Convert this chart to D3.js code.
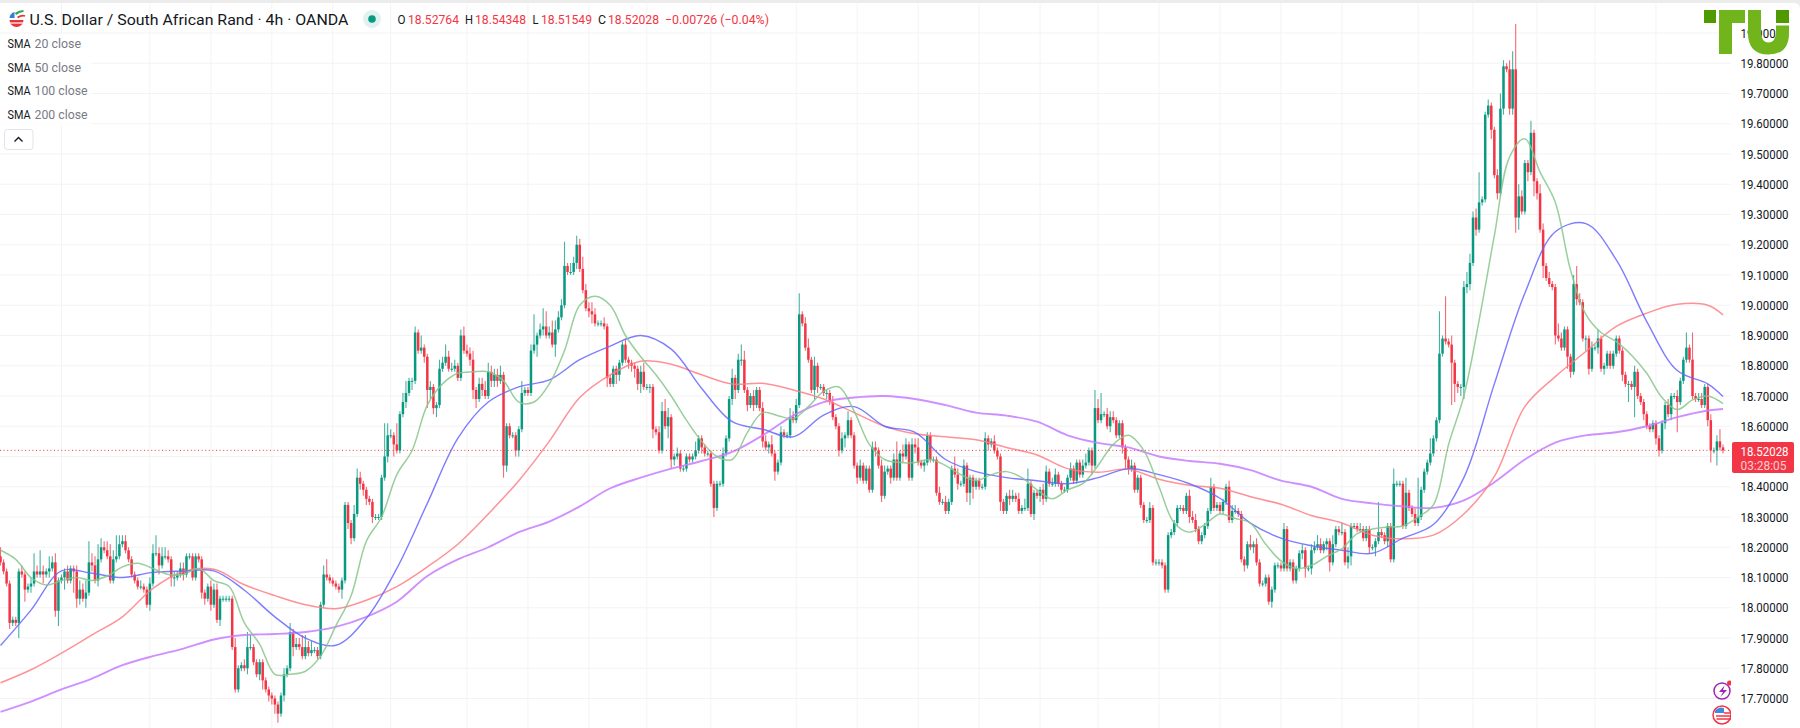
<!DOCTYPE html>
<html><head><meta charset="utf-8">
<script src="https://cdn.jsdelivr.net/npm/d3@7/dist/d3.min.js"></script>
<style>html,body{margin:0;padding:0;background:#ececec;overflow:hidden}svg{display:block}</style>
</head><body><svg id="c" width="1800" height="728"></svg>
<script>
const closes=[
18.15,18.12,18.08,17.95,17.96,17.95,18.12,18.11,18.06,18.07,
18.08,18.12,18.11,18.12,18.11,18.12,18.13,18.15,17.99,18.09,
18.10,18.12,18.09,18.13,18.12,18.03,18.06,18.03,18.05,18.15,
18.14,18.09,18.16,18.20,18.19,18.17,18.09,18.16,18.17,18.21,
18.22,18.19,18.16,18.11,18.09,18.07,18.07,18.06,18.01,18.08,
18.18,18.18,18.14,18.17,18.17,18.16,18.10,18.10,18.11,18.13,
18.11,18.17,18.17,18.10,18.17,18.16,18.05,18.03,18.07,18.01,
18.06,17.96,18.03,18.03,18.03,18.03,17.87,17.73,17.80,17.81,
17.80,17.87,17.87,17.82,17.78,17.82,17.76,17.73,17.71,17.70,
17.68,17.65,17.71,17.78,17.80,17.92,17.87,17.88,17.87,17.84,
17.87,17.85,17.86,17.86,17.84,18.01,18.11,18.10,18.09,18.08,
18.07,18.06,18.09,18.34,18.28,18.23,18.31,18.43,18.41,18.39,
18.36,18.35,18.30,18.30,18.30,18.43,18.50,18.57,18.57,18.54,
18.52,18.64,18.68,18.71,18.75,18.75,18.91,18.85,18.86,18.83,
18.72,18.73,18.66,18.67,18.79,18.81,18.83,18.79,18.79,18.80,
18.76,18.90,18.85,18.84,18.82,18.72,18.69,18.74,18.72,18.70,
18.78,18.75,18.77,18.75,18.77,18.47,18.60,18.57,18.57,18.52,
18.59,18.71,18.72,18.71,18.85,18.87,18.90,18.92,18.93,18.90,
18.91,18.87,18.92,18.96,19.00,19.13,19.11,19.11,19.14,19.20,
19.12,19.05,18.99,18.98,18.97,18.94,18.94,18.94,18.93,18.76,
18.74,18.79,18.77,18.81,18.87,18.82,18.81,18.80,18.79,18.74,
18.78,18.73,18.73,18.73,18.59,18.58,18.52,18.65,18.60,18.63,
18.49,18.50,18.51,18.46,18.46,18.50,18.49,18.50,18.52,18.56,
18.53,18.51,18.51,18.41,18.33,18.41,18.41,18.51,18.56,18.69,
18.76,18.72,18.82,18.82,18.72,18.67,18.70,18.67,18.72,18.66,
18.55,18.53,18.54,18.51,18.45,18.48,18.58,18.57,18.57,18.63,
18.62,18.67,18.97,18.94,18.86,18.82,18.72,18.80,18.73,18.73,
18.71,18.71,18.68,18.63,18.60,18.52,18.56,18.57,18.62,18.57,
18.47,18.43,18.47,18.42,18.46,18.39,18.53,18.52,18.47,18.37,
18.45,18.46,18.43,18.49,18.43,18.51,18.50,18.54,18.43,18.54,
18.53,18.48,18.47,18.48,18.57,18.49,18.49,18.38,18.35,18.35,
18.32,18.35,18.46,18.44,18.41,18.41,18.47,18.38,18.43,18.40,
18.42,18.40,18.40,18.56,18.54,18.55,18.52,18.50,18.35,18.32,
18.37,18.36,18.37,18.36,18.32,18.33,18.33,18.41,18.31,18.38,
18.37,18.39,18.36,18.45,18.41,18.41,18.44,18.41,18.39,18.39,
18.43,18.46,18.42,18.48,18.44,18.47,18.48,18.52,18.47,18.66,
18.62,18.64,18.64,18.60,18.63,18.62,18.57,18.61,18.53,18.49,
18.46,18.47,18.39,18.43,18.34,18.29,18.29,18.33,18.15,18.15,
18.15,18.14,18.06,18.24,18.25,18.28,18.33,18.33,18.32,18.37,
18.30,18.29,18.26,18.22,18.24,18.27,18.32,18.40,18.33,18.34,
18.32,18.35,18.40,18.29,18.32,18.32,18.31,18.16,18.14,18.21,
18.20,18.21,18.15,18.08,18.08,18.10,18.02,18.06,18.14,18.14,
18.13,18.26,18.13,18.15,18.09,18.13,18.18,18.19,18.13,18.13,
18.19,18.20,18.21,18.19,18.21,18.22,18.15,18.21,18.26,18.25,
18.25,18.15,18.17,18.27,18.27,18.26,18.26,18.23,18.26,18.20,
18.20,18.22,18.25,18.24,18.22,18.27,18.16,18.41,18.41,18.41,
18.27,18.38,18.33,18.31,18.28,18.30,18.39,18.45,18.48,18.51,
18.56,18.62,18.84,18.89,18.88,18.87,18.81,18.74,18.73,18.73,
19.06,19.07,19.14,19.29,19.25,19.34,19.35,19.63,19.66,19.58,
19.43,19.37,19.65,19.79,19.78,19.65,19.78,19.29,19.36,19.31,
19.47,19.44,19.57,19.41,19.37,19.25,19.13,19.09,19.07,19.06,
18.90,18.89,18.86,18.92,18.83,18.78,19.07,19.02,19.01,18.89,
18.89,18.79,18.86,18.86,18.89,18.79,18.80,18.84,18.80,18.84,
18.89,18.85,18.77,18.74,18.74,18.73,18.78,18.70,18.68,18.64,
18.60,18.59,18.61,18.56,18.52,18.61,18.67,18.64,18.70,18.70,
18.68,18.75,18.82,18.86,18.82,18.70,18.69,18.69,18.67,18.73,
18.62,18.52,18.52,18.55,18.53,18.52028];
const firstOpen=18.17;
// wick lengths above / below the body, in hundredths of a rand
const wickUp=[
3,1,1,1,1,1,1,2,1,1, 2,6,2,7,2,1,4,2,3,1, 1,1,2,1,1,2,3,2,4,7, 3,3,5,3,2,3,4,3,7,3,
2,2,1,1,1,1,2,1,1,2, 3,6,2,3,3,2,1,2,1,2, 2,1,1,1,1,1,1,1,1,2, 2,2,1,1,1,1,1,3,1,1,
2,5,4,1,1,1,1,1,1,1, 1,1,1,2,1,3,1,2,2,4, 4,2,3,1,1,1,3,5,1,1, 1,1,1,1,1,1,3,3,2,1,
1,1,1,1,1,1,11,4,2,1, 7,1,3,4,1,1,2,1,4,1, 1,2,1,1,3,2,4,2,2,2, 1,2,3,2,2,3,1,2,2,3,
3,2,2,2,3,1,1,1,1,1, 1,4,1,1,2,10,1,2,6,5, 2,4,3,2,2,8,1,3,2,3, 2,4,2,2,3,2,1,1,2,1,
1,1,1,1,1,2,1,1,1,1, 2,3,1,1,1,1,2,3,4,3, 1,1,2,1,1,1,1,1,3,1, 1,1,1,1,1,1,1,2,1,1,
3,1,2,5,3,1,1,2,1,1, 2,2,1,3,1,1,2,1,1,3, 2,2,7,1,2,3,1,3,1,1, 1,1,1,2,1,1,2,1,3,1,
1,1,2,1,1,1,2,2,1,2, 2,1,1,2,6,1,3,2,1,2, 2,3,1,1,1,1,1,1,2,1, 2,1,1,4,2,1,2,1,1,1,
1,1,1,2,1,1,2,1,1,1, 1,2,2,1,2,1,3,5,1,1, 1,1,2,2,1,2,2,1,1,1, 1,2,1,1,1,2,3,1,1,6,
3,7,1,2,2,2,1,1,1,1, 1,2,1,1,1,1,1,2,1,1, 1,1,1,1,1,1,1,1,1,1, 2,2,2,1,1,1,1,3,1,1,
1,1,1,2,2,2,1,1,1,1, 3,1,2,1,1,1,1,1,1,1, 1,2,1,1,1,1,1,2,1,1, 2,2,3,2,1,1,1,3,1,1,
3,1,3,1,1,1,2,1,1,1, 1,1,10,1,1,1,1,5,1,1, 1,5,1,1,2,13,1,1,1,5, 1,1,14,1,14,1,3,1,1,1,
2,4,3,2,3,10,1,1,2,1, 1,2,5,2,1,3,6,15,4,2, 1,1,4,1,1,3,2,1,2,1, 1,4,2,1,1,1,3,6,2,1,
1,1,2,1,3,1,1,1,1,1, 1,1,1,1,1,1,2,1,1,1, 1,1,1,1,1,1,1,2,1,1, 2,1,1,5,1,9,1,2,2,1,
1,2,1,2,4,1];
const wickDn=[
1,1,1,2,1,1,5,1,4,1, 2,1,1,1,3,1,2,1,2,5, 1,4,1,1,7,3,2,1,3,1, 2,1,2,1,1,1,1,1,1,1,
1,1,1,1,1,1,1,1,1,2, 1,1,3,1,1,1,3,3,1,1, 2,1,1,1,1,1,2,2,1,2, 1,1,2,1,1,1,1,1,1,1,
1,2,1,1,1,2,3,1,2,2, 3,3,1,2,1,1,3,1,1,1, 1,1,1,1,1,1,1,1,1,1, 1,1,3,1,2,2,1,1,2,2,
2,1,2,1,1,1,1,2,1,4, 1,1,1,2,1,3,1,1,1,2, 6,3,2,3,1,1,1,1,1,1, 1,1,1,1,2,3,3,1,2,1,
1,2,2,2,1,4,2,1,1,2, 2,1,1,1,1,1,4,1,2,1, 1,1,4,1,1,1,1,1,1,2, 1,1,1,2,3,1,1,1,1,3,
1,1,3,2,1,1,2,2,3,2, 3,1,1,2,3,1,1,1,1,4, 3,2,1,1,1,1,1,1,1,1, 2,1,1,1,3,1,1,1,1,1,
2,3,1,2,1,2,1,2,1,1, 2,1,2,1,3,1,1,1,1,1, 1,1,1,1,1,1,1,3,2,1, 1,2,1,1,1,2,1,3,1,1,
1,2,1,1,1,1,1,2,1,2, 1,1,2,1,1,1,2,1,1,1, 2,1,1,2,1,1,1,1,1,1, 1,1,1,1,2,1,1,3,4,4,
1,1,1,1,2,1,1,1,3,1, 1,2,1,1,1,1,1,1,1,2, 1,2,2,1,1,1,1,1,1,1, 1,1,1,1,1,1,1,1,3,1,
1,1,1,1,2,1,1,1,2,3, 2,1,1,1,1,1,1,1,1,1, 1,1,1,1,1,1,1,1,1,1, 2,1,1,1,1,1,1,1,1,1,
1,1,1,1,1,1,1,1,2,1, 1,2,1,1,1,1,1,2,1,1, 1,1,1,1,1,1,1,2,3,1, 2,1,1,1,1,2,3,1,1,1,
1,1,2,3,1,1,1,1,1,2, 1,3,1,1,1,2,1,1,1,1, 1,1,1,1,1,1,1,1,1,1, 1,1,1,1,1,1,14,6,2,3,
4,2,2,1,2,1,1,1,1,3, 1,2,1,2,1,2,2,5,4,1, 1,3,1,5,2,1,4,1,1,1, 3,1,1,1,4,2,1,2,1,1,
4,2,1,1,2,1,2,1,1,1, 1,1,2,1,6,1,10,1,1,2, 1,1,1,2,2,1,2,1,2,1, 10,1,1,1,1,1,1,1,1,1,
2,4,1,5,1,1];
// moving averages, read every few bars
const sma20Bars=d3.range(0,566,5);
const sma20=[
18.19,18.16,18.10,18.075,18.09,18.10,18.09,18.105,18.135,18.147,
18.13,18.11,18.11,18.13,18.09,18.07,17.95,17.88,17.78,17.78,
17.79,17.84,17.94,18.04,18.22,18.30,18.44,18.52,18.67,18.74,
18.775,18.78,18.78,18.75,18.68,18.68,18.74,18.85,19.00,19.03,
19.00,18.90,18.83,18.77,18.70,18.62,18.55,18.50,18.49,18.58,
18.645,18.635,18.625,18.665,18.715,18.73,18.65,18.54,18.49,18.48,
18.48,18.49,18.47,18.44,18.42,18.44,18.45,18.43,18.39,18.36,
18.39,18.41,18.47,18.54,18.57,18.52,18.40,18.28,18.25,18.275,
18.31,18.295,18.28,18.21,18.155,18.13,18.14,18.17,18.195,18.245,
18.26,18.267,18.27,18.30,18.34,18.54,18.70,18.95,19.23,19.49,
19.55,19.44,19.34,19.116,18.97,18.91,18.88,18.835,18.775,18.695,
18.655,18.687,18.70,18.675];
const maBars=d3.range(0,561,10).concat([565]);
const sma50=[
17.875,17.992,18.122,18.114,18.10,18.117,18.121,18.122,18.058,17.97,
17.90,17.876,17.965,18.13,18.345,18.56,18.68,18.73,18.753,18.82,
18.865,18.90,18.855,18.725,18.615,18.59,18.565,18.637,18.665,18.60,
18.58,18.49,18.45,18.43,18.42,18.41,18.43,18.46,18.44,18.41,
18.362,18.28,18.23,18.205,18.19,18.18,18.23,18.275,18.43,18.74,
19.04,19.243,19.27,19.15,18.946,18.784,18.74,18.698];
const sma100=[
17.752,17.795,17.85,17.91,17.97,18.064,18.12,18.127,18.076,18.04,
18.01,17.997,18.025,18.07,18.135,18.21,18.31,18.42,18.55,18.695,
18.77,18.815,18.805,18.77,18.74,18.742,18.72,18.69,18.645,18.60,
18.575,18.565,18.555,18.53,18.505,18.46,18.448,18.458,18.425,18.405,
18.395,18.367,18.342,18.305,18.28,18.24,18.228,18.24,18.31,18.434,
18.665,18.764,18.847,18.93,18.974,19.003,19.00,18.968];
const sma200=[
17.656,17.69,17.73,17.766,17.81,17.84,17.865,17.895,17.91,17.913,
17.92,17.937,17.97,18.02,18.105,18.16,18.20,18.25,18.285,18.335,
18.395,18.43,18.46,18.485,18.515,18.57,18.635,18.68,18.695,18.70,
18.69,18.67,18.645,18.635,18.615,18.57,18.545,18.53,18.50,18.485,
18.476,18.455,18.42,18.40,18.36,18.345,18.335,18.33,18.355,18.415,
18.49,18.546,18.57,18.58,18.60,18.63,18.652,18.657];
const priceTicks=[19.9,19.8,19.7,19.6,19.5,19.4,19.3,19.2,19.1,19.0,18.9,18.8,18.7,18.6,18.5,18.4,18.3,18.2,18.1,18.0,17.9,17.8,17.7];
const shownTicks=priceTicks.filter(t=>t!==18.5);
const gridBars=[20,49,69,89,109,128,153,173,193,212,233,261,281,301,321,341,360,380,400,420,440,465,483,504,523,543];
const lastPrice=18.52028, countdown="03:28:05";
const title="U.S. Dollar / South African Rand · 4h · OANDA";
const smaNames=["20 close","50 close","100 close","200 close"];
const ohlc=[["O","18.52764"],["H","18.54348"],["L","18.51549"],["C","18.52028"]];
const change="−0.00726 (−0.04%)";

const UP="#089981",DN="#f23645",GRID="#f3f3f5",FONT="Roboto, sans-serif";
const PANE=1731;
const svg=d3.select("#c");
const x=d3.scaleLinear().domain([0,565]).range([0.5,1723]);
const y=d3.scaleLinear().domain([17.7,18.7]).range([698.5,396]);

svg.append("path").attr("fill","#fff").attr("d","M0 3H1794Q1800 3 1800 9V728H0Z");
const defs=svg.append("defs");
defs.append("clipPath").attr("id","pane").append("rect").attr("x",0).attr("y",3).attr("width",PANE).attr("height",725);

// grid
const g=svg.append("g").attr("clip-path","url(#pane)");
g.append("g").selectAll("line").data(gridBars).join("line")
 .attr("x1",d=>x(d)).attr("x2",d=>x(d)).attr("y1",3).attr("y2",728).attr("stroke",GRID).attr("stroke-width",1);
g.append("g").selectAll("line").data(priceTicks).join("line")
 .attr("x1",0).attr("x2",PANE).attr("y1",d=>y(d)).attr("y2",d=>y(d)).attr("stroke",GRID).attr("stroke-width",1);

// candles
const candles=closes.map((c,i)=>{
  const o=i?closes[i-1]:firstOpen;
  return {i,o,c,h:Math.max(o,c)+wickUp[i]/100,l:Math.min(o,c)-wickDn[i]/100};
});
const cg=g.append("g");
cg.selectAll("line").data(candles).join("line")
 .attr("x1",d=>x(d.i)).attr("x2",d=>x(d.i)).attr("y1",d=>y(d.h)).attr("y2",d=>y(d.l))
 .attr("stroke",d=>d.c>=d.o?UP:DN).attr("stroke-width",1.1).attr("stroke-opacity",.75);
cg.selectAll("rect").data(candles).join("rect")
 .attr("x",d=>x(d.i)-1.25).attr("width",2.5)
 .attr("y",d=>y(Math.max(d.o,d.c))).attr("height",d=>Math.max(1,Math.abs(y(d.o)-y(d.c))))
 .attr("fill",d=>d.c>=d.o?UP:DN);

// moving averages
function ma(bars,vals,color,w){
  const l=d3.line().x((d,i)=>x(bars[i])).y(d=>y(d)).curve(d3.curveCatmullRom);
  g.append("path").attr("d",l(vals)).attr("fill","none").attr("stroke",color).attr("stroke-width",w).attr("stroke-opacity",.85);
}
ma(maBars,sma200,"#c77dff",1.9);
ma(maBars,sma100,"#ff7f85",1.5);
ma(maBars,sma50,"#6666ff",1.4);
ma(sma20Bars,sma20,"#86c78a",1.5);

// current price line
g.append("line").attr("x1",0).attr("x2",PANE).attr("y1",y(lastPrice)).attr("y2",y(lastPrice))
 .attr("stroke",DN).attr("stroke-width",1).attr("stroke-dasharray","1 2.6");

// price axis
const axis=d3.axisRight(y).tickValues(shownTicks).tickFormat(d3.format(".5f")).tickSize(0).tickPadding(0);
const ag=svg.append("g").attr("transform","translate(1740.5,0)").call(axis);
ag.select(".domain").remove();
ag.selectAll("text").attr("font-family",FONT).attr("font-size",13).attr("fill","#131722")
 .attr("textLength",48).attr("lengthAdjust","spacingAndGlyphs");

// last price label
svg.append("rect").attr("x",1732).attr("y",442).attr("width",62).attr("height",31).attr("rx",2).attr("fill",DN);
function t(sel,str,xp,yp,o={}){
  const e=sel.append("text").text(str).attr("x",xp).attr("y",yp).attr("font-family",FONT)
   .attr("font-size",o.size||13).attr("fill",o.fill||"#131722").attr("dominant-baseline","central");
  if(o.len)e.attr("textLength",o.len).attr("lengthAdjust","spacingAndGlyphs");
  if(o.op)e.attr("fill-opacity",o.op);
  return e;
}
t(svg,lastPrice.toFixed(5),1740.5,451,{fill:"#fff",len:48});
t(svg,countdown,1740.5,465,{fill:"#fff",len:46,op:.75});

// legend
svg.append("rect").attr("x",0).attr("y",34).attr("width",92).attr("height",92).attr("fill","#fff").attr("fill-opacity",.8);
t(svg,title,29.5,20,{size:15,len:319});
svg.append("circle").attr("cx",372).attr("cy",19).attr("r",9).attr("fill","#dff2ef");
svg.append("circle").attr("cx",372).attr("cy",19).attr("r",3.8).attr("fill",UP);
const ohlcX=[[397.5,408],[465,475],[532.5,541],[598,608]];
ohlc.forEach((d,i)=>{
  t(svg,d[0],ohlcX[i][0],19.5,{size:13,len:d[0]=="L"?6:8});
  t(svg,d[1],ohlcX[i][1],19.5,{size:13,len:51,fill:DN});
});
t(svg,change,665,19.5,{size:13,len:104,fill:DN});
const rowY=[43.7,67,90.7,114.3];
smaNames.forEach((n,i)=>{
  t(svg,"SMA",7.5,rowY[i],{size:13,len:23});
  t(svg,n,34.5,rowY[i],{size:13,fill:"#787b86",len:n.length==8?46.5:53});
});
svg.append("rect").attr("x",4.5).attr("y",129.5).attr("width",28.5).attr("height",20).attr("rx",3).attr("fill","#fff").attr("stroke","#e0e3eb");
svg.append("path").attr("d","M14.5 141.5L18.5 137.5L22.5 141.5").attr("fill","none").attr("stroke","#131722").attr("stroke-width",1.4);

// symbol icon
const ic=svg.append("g").attr("transform","translate(16.5,19)").attr("fill","none");
ic.append("circle").attr("r",8).attr("fill","#fff");
ic.append("path").attr("d","M-7 -1A7 7 0 0 1 -2 -7L-2 -1Z").attr("fill","#2f7fd6");
ic.append("path").attr("d","M-7 1H7A7 7 0 0 1 -7 1Z").attr("fill","#e8323c");
ic.append("path").attr("d","M-7 4H7").attr("stroke","#fff").attr("stroke-width",1.2);
ic.append("path").attr("d","M-1 -5Q3 -8 7 -8").attr("stroke","#2ea84a").attr("stroke-width",2.2);
ic.append("path").attr("d","M1 -1.5Q5 -4 8.5 -3").attr("stroke","#e8323c").attr("stroke-width",1.8);

// bottom-right event icons (clipped by pane)
const ev=svg.append("g").attr("clip-path","url(#pane)");
ev.append("circle").attr("cx",1722).attr("cy",691).attr("r",8).attr("fill","#fff").attr("stroke","#9c27b0").attr("stroke-width",1.5);
ev.append("path").attr("d","M1724.5 685.5L1719 692H1723L1720.5 697L1727 690H1723Z").attr("fill","#9c27b0");
ev.append("circle").attr("cx",1729.5).attr("cy",683).attr("r",2.5).attr("fill",DN);
ev.append("circle").attr("cx",1722).attr("cy",715).attr("r",9).attr("fill","#fff").attr("stroke",DN).attr("stroke-width",1.5);
ev.append("path").attr("d","M1715 713V711A7 7 0 0 1 1724 708.3V713Z").attr("fill","#3d8be0");
ev.append("path").attr("d","M1724 713H1731M1716 716H1731M1716.5 719H1731").attr("stroke",DN).attr("stroke-width",1.4);

// TU logo
const lg=svg.append("g");
lg.append("rect").attr("x",1704).attr("y",10).attr("width",12).attr("height",13).attr("fill","#4f9a00");
lg.append("rect").attr("x",1776).attr("y",10).attr("width",13).attr("height",13).attr("fill","#4f9a00");
lg.append("path").attr("fill","#72b41c").attr("d","M1719 10H1745V23H1732V54H1719Z");
lg.append("path").attr("fill","#72b41c").attr("d","M1748 10H1761V31Q1761 42.5 1768.5 42.5Q1776 42.5 1776 31V25.5H1789V33Q1789 54.5 1768.5 54.5Q1748 54.5 1748 33Z");
</script></body></html>
